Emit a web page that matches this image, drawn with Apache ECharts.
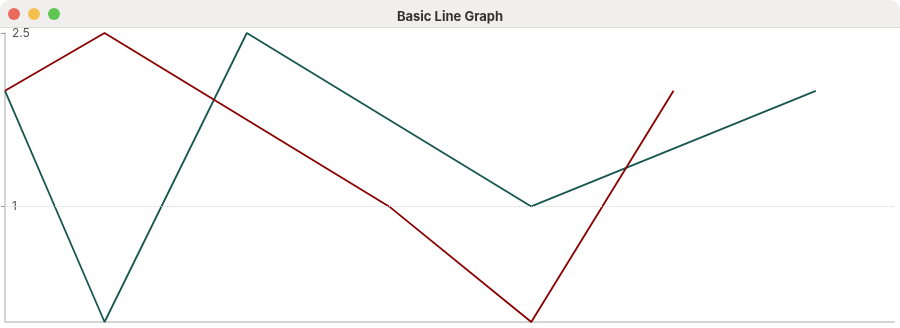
<!DOCTYPE html>
<html>
<head>
<meta charset="utf-8">
<script src="https://cdn.jsdelivr.net/npm/echarts@6/dist/echarts.min.js"></script>
<style>
html,body{margin:0;padding:0;background:#fff;}
#chart{width:900px;height:328px;}
</style>
</head>
<body>
<div id="chart"></div>
<script>
const windowTitle = "Basic Line Graph";
const redX = [0, 0.7, 2.7, 3.7, 4.7];
const redY = [2, 2.5, 1, 0, 2];
const greenX = [0, 0.7, 1.7, 3.7, 5.7];
const greenY = [2, 0, 2.5, 1, 2];
const yTickValues = [1, 2.5];
const gridLineValue = 1;

const chart = echarts.init(document.getElementById('chart'));
const pair = (xs, ys) => xs.map((x, i) => [x, ys[i]]);

chart.setOption({
  animation: false,
  backgroundColor: '#ffffff',
  title: {
    text: windowTitle,
    left: 'center',
    top: 6,
    textStyle: {fontFamily: 'Inter, Roboto, sans-serif', fontSize: 13, fontWeight: 'bold', color: '#333'}
  },
  graphic: [
    {type: 'rect', z: -1, shape: {x: 0, y: 0, width: 900, height: 28, r: [10, 10, 0, 0]}, style: {fill: '#f0efee'}},
    {type: 'rect', z: -1, shape: {x: 0, y: 27, width: 900, height: 1}, style: {fill: '#dcdcdc'}},
    {type: 'circle', shape: {cx: 14, cy: 14, r: 6}, style: {fill: '#ec6a5e'}},
    {type: 'circle', shape: {cx: 34, cy: 14, r: 6}, style: {fill: '#f4bf4f'}},
    {type: 'circle', shape: {cx: 54, cy: 14, r: 6}, style: {fill: '#61c554'}}
  ],
  grid: {left: 5, right: 6, top: 33, bottom: 6, containLabel: false},
  xAxis: {
    type: 'value', min: 0, max: 6.25,
    axisLine: {show: true, lineStyle: {color: '#d4d4d4', width: 2}},
    axisTick: {show: false}, axisLabel: {show: false}, splitLine: {show: false}
  },
  yAxis: {
    type: 'value', min: 0, max: 2.5,
    axisLine: {show: true, lineStyle: {color: '#d4d4d4', width: 2}},
    axisTick: {show: true, customValues: yTickValues, length: 4, inside: false, lineStyle: {color: '#999', width: 1}},
    axisLabel: {show: true, customValues: yTickValues, inside: true, margin: 7, color: '#555', fontSize: 12, fontFamily: 'Inter, Roboto, sans-serif'},
    splitLine: {show: false}
  },
  series: [
    {
      type: 'line', data: [], silent: true, z: 1,
      markLine: {
        silent: true, symbol: 'none', label: {show: false},
        lineStyle: {color: '#d6d6d6', type: 'dotted', width: 1},
        data: [{yAxis: gridLineValue}]
      }
    },
    {
      type: 'line', data: pair(redX, redY), showSymbol: false, symbol: 'none',
      lineStyle: {color: '#8b0000', width: 1.8}, itemStyle: {color: '#8b0000'},
      z: 3
    },
    {
      type: 'line', data: pair(greenX, greenY), showSymbol: false, symbol: 'none',
      lineStyle: {color: '#17574f', width: 1.8}, itemStyle: {color: '#17574f'},
      z: 2
    }
  ]
});
</script>
</body>
</html>
